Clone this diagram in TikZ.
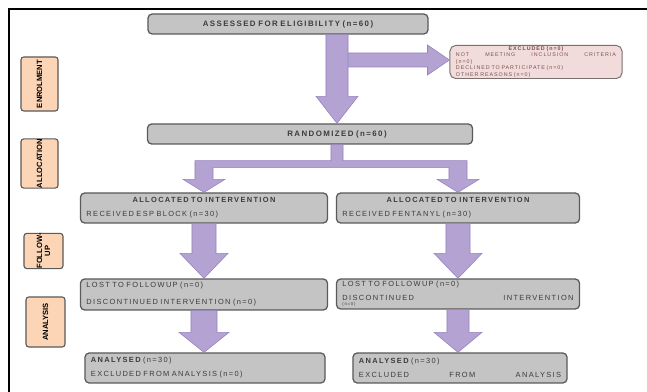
\documentclass[tikz,border=0pt]{standalone}
\usepackage{fontspec}
\setmainfont{Liberation Sans}
\newfontfamily\widefont[LetterSpace=18]{Liberation Sans}
\newcommand{\wsp}{\fontdimen2\font=0.55em\relax}
\usetikzlibrary{positioning, calc}
\definecolor{cgrey}{HTML}{C4C4C4}
\definecolor{cedge}{HTML}{5A5A5A}
\definecolor{ctext}{HTML}{3C3C3C}
\definecolor{cpink}{HTML}{F2DCDB}
\definecolor{cpinkedge}{HTML}{7A7070}
\definecolor{cpinktext}{HTML}{7A5050}
\definecolor{corange}{HTML}{FBD5B5}
\definecolor{carrow}{HTML}{B3A2D2}
\definecolor{carrowedge}{HTML}{9583BE}
\tikzset{
  box/.style={rectangle, rounded corners=3pt, draw=cedge, line width=0.9pt, fill=cgrey,
              text=ctext, inner xsep=0.15cm, inner ysep=0pt, align=left,
              font=\widefont\fontsize{5.3}{10}\selectfont\wsp},
  headbox/.style={box, align=center, font=\widefont\bfseries\fontsize{5.6}{7}\selectfont\wsp},
  exclbox/.style={rectangle, rounded corners=4pt, draw=cpinkedge, line width=0.7pt, fill=cpink,
              text=cpinktext, inner xsep=0.15cm, inner ysep=0pt, align=left,
              font=\widefont\fontsize{3.8}{4.6}\selectfont},
  stage/.style={rectangle, rounded corners=2pt, draw=cedge, line width=0.8pt, fill=corange,
              text=black, inner sep=0pt, rotate=90, align=center,
              font=\bfseries\fontsize{5.4}{5.8}\selectfont},
  blockarrow/.style={fill=carrow, draw=carrowedge, line width=0.4pt}
}
% block arrows: from, to, shaft half width, head half width, head length
\newcommand{\blkdown}[5]{%
  \path[blockarrow] let \p1=(#1), \p2=(#2) in
    (\x1-#3,\y1) -- (\x1+#3,\y1) -- (\x1+#3,\y2+#5) -- (\x1+#4,\y2+#5) -- (\x1,\y2)
    -- (\x1-#4,\y2+#5) -- (\x1-#3,\y2+#5) -- cycle;}
\newcommand{\blkright}[5]{%
  \path[blockarrow] let \p1=(#1), \p2=(#2) in
    (\x1,\y1+#3) -- (\x2-#5,\y1+#3) -- (\x2-#5,\y1+#4) -- (\x2,\y1)
    -- (\x2-#5,\y1-#4) -- (\x2-#5,\y1-#3) -- (\x1,\y1-#3) -- cycle;}

\begin{document}
\begin{tikzpicture}[x=0.025cm, y=-0.025cm]
  \useasboundingbox (0,0) rectangle (647,392);
  % frame
  \draw[line width=2pt] (9,392) -- (9,9) -- (647,9);

  % stage labels
  \node[stage, minimum width=1.35cm, minimum height=0.925cm] (enrol) at (39.5,84) {ENROLMENT};
  \node[stage, minimum width=1.225cm, minimum height=0.925cm] (allocation) at (39.5,163.5) {ALLOCATION};
  \node[stage, minimum width=0.85cm, minimum height=0.975cm] (followup) at (43.5,251) {FOLLOW-\\UP};
  \node[stage, minimum width=1.25cm, minimum height=0.975cm] (analysis) at (45.5,322) {ANALYSIS};

  % flow boxes
  \node[headbox, text width=6.7cm, minimum height=0.5cm] (assess) at (288,24) {ASSESSED FOR ELIGIBILITY (n=60)};
  \node[exclbox, text width=4.0cm, minimum height=0.825cm] (excl) at (536,62)
    {\makebox[\linewidth][c]{\bfseries EXCLUDED (n=0)}\\
     NOT\hfill MEETING\hfill INCLUSION\hfill CRITERIA\\(n=0)\\
     DECLINED TO PARTICIPATE (n=0)\\OTHER REASONS (n=0)};
  \node[headbox, text width=7.825cm, minimum height=0.5cm] (rand) at (310,134)
    {\hspace*{1.35cm}RANDOMIZED (n=60)};
  \node[box, text width=5.875cm, minimum height=0.75cm] (alloc1) at (204,208)
    {\makebox[\linewidth][c]{\bfseries\wsp ALLOCATED TO INTERVENTION}\\RECEIVED ESP BLOCK (n=30)};
  \node[box, text width=5.775cm, minimum height=0.75cm] (alloc2) at (458,208)
    {\makebox[\linewidth][c]{\bfseries\wsp ALLOCATED TO INTERVENTION}\\RECEIVED FENTANYL (n=30)};
  \node[box, text width=5.875cm, minimum height=0.775cm, font=\widefont\fontsize{5.3}{12}\selectfont\wsp] (follow1) at (204,294.5)
    {LOST TO FOLLOWUP (n=0)\\DISCONTINUED INTERVENTION (n=0)};
  \node[box, text width=5.775cm, minimum height=0.75cm] (follow2) at (458,294)
    {LOST TO FOLLOWUP (n=0)\\DISCONTINUED\hfill INTERVENTION\\[-6.5pt]{\fontsize{3}{3}\selectfont(n=0)}};
  \node[box, text width=5.7cm, minimum height=0.75cm] (anal1) at (205,368)
    {{\bfseries\wsp ANALYSED} (n=30)\\EXCLUDED FROM ANALYSIS (n=0)};
  \node[box, text width=5.05cm, minimum height=0.75cm] (anal2) at (460,368)
    {{\bfseries\wsp ANALYSED} (n=30)\\EXCLUDED\hfill FROM\hfill ANALYSIS};

  % arrows
  \coordinate (spine) at (337,60);
  \blkright{spine}{excl.west}{1.75mm}{3.75mm}{5.5mm}
  \blkdown{assess.south -| spine}{rand.north -| spine}{2.75mm}{5.25mm}{6.75mm}
  \path[blockarrow] let \p1=(rand.south -| spine), \p2=(alloc1.north), \p3=(alloc2.north) in
    (\x1-1.5mm,\y1) -- (\x1+1.5mm,\y1) -- (\x1+1.5mm,\y1-4mm) -- (\x3+2.25mm,\y1-4mm)
    -- (\x3+2.25mm,\y3+3.25mm) -- (\x3+5.25mm,\y3+3.25mm) -- (\x3,\y3)
    -- (\x3-5.25mm,\y3+3.25mm) -- (\x3-2.25mm,\y3+3.25mm) -- (\x3-2.25mm,\y1-5.75mm)
    -- (\x2+2.25mm,\y1-5.75mm) -- (\x2+2.25mm,\y2+3.25mm) -- (\x2+5.25mm,\y2+3.25mm)
    -- (\x2,\y2) -- (\x2-5.25mm,\y2+3.25mm) -- (\x2-2.25mm,\y2+3.25mm)
    -- (\x2-2.25mm,\y1-4mm) -- (\x1-1.5mm,\y1-4mm) -- cycle;
  \blkdown{alloc1.south}{follow1.north}{3mm}{6mm}{6.25mm}
  \blkdown{alloc2.south}{follow2.north}{3mm}{6mm}{6.25mm}
  \blkdown{follow1.south}{anal1.north}{3.25mm}{6.25mm}{5mm}
  \blkdown{follow2.south}{anal2.north}{2.75mm}{6mm}{5mm}
\end{tikzpicture}
\end{document}
